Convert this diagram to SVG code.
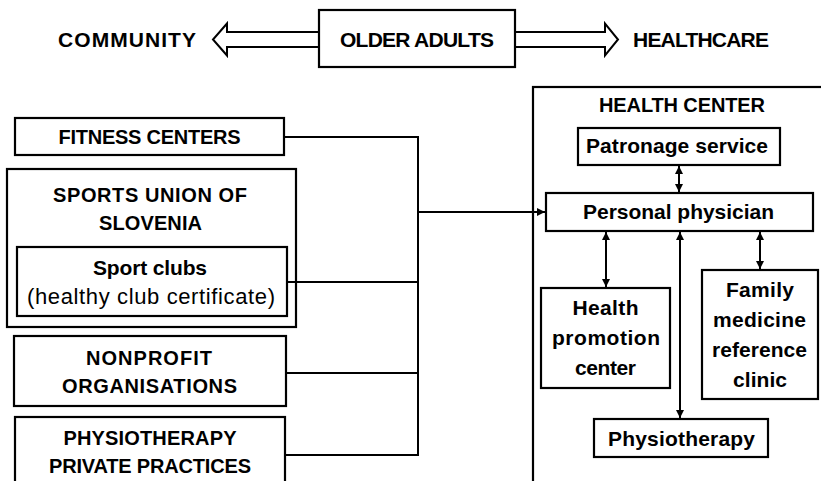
<svg xmlns="http://www.w3.org/2000/svg" width="821" height="481" viewBox="0 0 821 481">
  <style>
    .box { fill: #ffffff; stroke: #000000; stroke-width: 2.2; }
    .frame { fill: none; stroke: #000000; stroke-width: 2.2; }
    .hollow { fill: #ffffff; stroke: #000000; stroke-width: 2; stroke-linejoin: miter; }
    .wire { fill: none; stroke: #000000; stroke-width: 2; }
    .b { font-family: "Liberation Sans", Arial, sans-serif; font-weight: bold; font-size: 20px; text-anchor: middle; fill: #000000; }
    .r { font-family: "Liberation Sans", Arial, sans-serif; font-weight: normal; font-size: 22px; text-anchor: middle; fill: #000000; }
    .big { font-size: 21px; }
  </style>
  <defs>
    <marker id="tip" viewBox="0 0 8 8" refX="8" refY="4" markerWidth="8" markerHeight="8" markerUnits="userSpaceOnUse" orient="auto-start-reverse">
      <path d="M0,0 L8,4 L0,8 Z" fill="#000000"/>
    </marker>
  </defs>
  <rect width="821" height="481" fill="#ffffff"/>

  <!-- headline: community <= older adults => healthcare -->
  <g id="headline">
    <polygon class="hollow" points="320,32 227,32 227,23.5 213,39.5 227,55.5 227,47 320,47"/>
    <polygon class="hollow" points="514,32 605,32 605,23.5 618,39.5 605,55.5 605,47 514,47"/>
    <text class="b big" x="127" y="47" textLength="138">COMMUNITY</text>
    <text class="b big" x="701" y="47" textLength="136">HEALTHCARE</text>
  </g>
  <g id="older-adults">
    <rect class="box" x="319" y="10" width="196" height="57"/>
    <text class="b big" x="417" y="47" textLength="154">OLDER ADULTS</text>
  </g>

  <!-- community side -->
  <g id="fitness-centers">
    <rect class="box" x="15" y="118" width="269" height="37"/>
    <text class="b" x="149.5" y="144" textLength="182">FITNESS CENTERS</text>
  </g>
  <g id="sports-union">
    <rect class="frame" x="7" y="169" width="289" height="158"/>
    <text class="b" x="150" y="202" textLength="194">SPORTS UNION OF</text>
    <text class="b" x="150.5" y="230" textLength="103">SLOVENIA</text>
  </g>
  <g id="sport-clubs">
    <rect class="box" x="17" y="247" width="270" height="69"/>
    <text class="b big" x="150" y="275" textLength="114">Sport clubs</text>
    <text class="r" x="151" y="304" textLength="248">(healthy club certificate)</text>
  </g>
  <g id="nonprofit">
    <rect class="box" x="14" y="336" width="272" height="70"/>
    <text class="b" x="149" y="365" textLength="126">NONPROFIT</text>
    <text class="b" x="149.5" y="393" textLength="175">ORGANISATIONS</text>
  </g>
  <g id="physio-private">
    <rect class="box" x="15" y="417" width="270" height="80"/>
    <text class="b" x="150" y="445" textLength="173">PHYSIOTHERAPY</text>
    <text class="b" x="150" y="473" textLength="202">PRIVATE PRACTICES</text>
  </g>

  <!-- healthcare side -->
  <g id="health-center">
    <rect class="frame" x="533" y="87" width="300" height="410"/>
    <text class="b" x="682" y="112" textLength="166">HEALTH CENTER</text>
  </g>
  <g id="patronage">
    <rect class="box" x="578" y="128" width="202" height="37"/>
    <text class="b big" x="677" y="153" textLength="182">Patronage service</text>
  </g>
  <g id="personal-physician">
    <rect class="box" x="546" y="193" width="267" height="38"/>
    <text class="b big" x="678.5" y="219" textLength="191">Personal physician</text>
  </g>
  <g id="health-promotion">
    <rect class="box" x="541" y="288" width="129" height="100"/>
    <text class="b big" x="605.5" y="315" textLength="66">Health</text>
    <text class="b big" x="606" y="345" textLength="108">promotion</text>
    <text class="b big" x="605.5" y="375" textLength="61">center</text>
  </g>
  <g id="family-medicine">
    <rect class="box" x="702" y="270" width="116" height="129"/>
    <text class="b big" x="760" y="297" textLength="68">Family</text>
    <text class="b big" x="759.5" y="327" textLength="93">medicine</text>
    <text class="b big" x="759.5" y="357" textLength="95">reference</text>
    <text class="b big" x="760" y="387" textLength="54">clinic</text>
  </g>
  <g id="physiotherapy">
    <rect class="box" x="594" y="419" width="174" height="38"/>
    <text class="b big" x="681.5" y="446" textLength="147">Physiotherapy</text>
  </g>

  <!-- connectors -->
  <g id="connectors">
    <path class="wire" d="M284,137 H418 M287,282 H418 M286,373 H418 M285,455 H418 M418,136 V456"/>
    <path class="wire" d="M418,212 H545" marker-end="url(#tip)"/>
    <path class="wire" d="M679,166 V192" marker-start="url(#tip)" marker-end="url(#tip)"/>
    <path class="wire" d="M606,232 V287" marker-start="url(#tip)" marker-end="url(#tip)"/>
    <path class="wire" d="M680,232 V418" marker-start="url(#tip)" marker-end="url(#tip)"/>
    <path class="wire" d="M760,232 V269" marker-start="url(#tip)" marker-end="url(#tip)"/>
  </g>
</svg>
